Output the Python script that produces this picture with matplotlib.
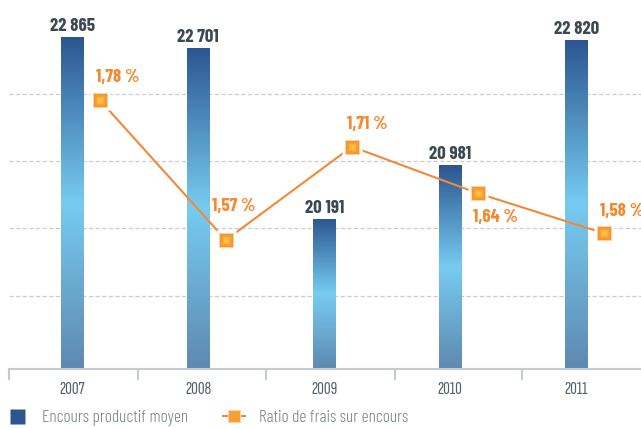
import numpy as np
import matplotlib
matplotlib.use('Agg')
import matplotlib.pyplot as plt
from matplotlib import font_manager
from matplotlib.colors import LinearSegmentedColormap
from matplotlib.lines import Line2D

# ---- data ----
years = ['2007', '2008', '2009', '2010', '2011']
encours = [22865, 22701, 20191, 20981, 22820]
ratio = [1.78, 1.57, 1.71, 1.64, 1.58]
bar_labels = ['22 865', '22 701', '20 191', '20 981', '22 820']
ratio_labels = ['1,78 %', '1,57 %', '1,71 %', '1,64 %', '1,58 %']
legend_labels = ['Encours productif moyen', 'Ratio de frais sur encours']

# ---- fonts ----
names = {f.name for f in font_manager.fontManager.ttflist}
def fam(name):
    return [name, 'DejaVu Sans'] if name in names else ['DejaVu Sans']
F_MAIN = fam('Barlow Condensed')
F_YEAR = fam('Sofia Sans Extra Condensed')
plt.rcParams['font.family'] = F_MAIN

W, H = 641, 428
fig = plt.figure(figsize=(W / 100, H / 100), dpi=100)
AX_BOTTOM = 369
ax = fig.add_axes([0, (H - AX_BOTTOM) / H, 1, AX_BOTTOM / H])
ax2 = ax.twinx()

x = np.arange(len(years))
PX = 126.1
xmin, xmax = -72 / PX, (W - 72) / PX
YBOT, YTOP = 17985, 23406
Y2BOT, Y2TOP = 1.3765, 1.93

# ---- gridlines ----
grid_levels = [19060, 20050, 21040, 22030]
for g in grid_levels:
    ax.axhline(g, xmin=(9 / W), xmax=1, color='#c9ced1', lw=0.9,
               ls=(0, (3.4, 1.9)), zorder=1)

# ---- bars with vertical gradient ----
bar_w = 23 / PX
bars = ax.bar(x, encours, width=bar_w, color='none', edgecolor='none', zorder=2)
cmap = LinearSegmentedColormap.from_list(
    'bar', [(0.0, '#5e89b0'), (0.5, '#77cbf1'), (1.0, '#2b5690')])
grad = np.linspace(0, 1, 256).reshape(-1, 1)
for b in bars:
    x0 = b.get_x()
    im = ax.imshow(grad, extent=[x0, x0 + b.get_width(), YBOT, b.get_height()],
                   origin='lower', aspect='auto', cmap=cmap, zorder=2,
                   interpolation='bilinear')
    im.set_clip_path(b)

for xi, v, lbl in zip(x, encours, bar_labels):
    ax.annotate(lbl, (xi, v), xytext=(0, 6), textcoords='offset pixels',
                ha='center', va='baseline', fontsize=13.5, fontweight='bold',
                color='#3b4950')

ax.set_xlim(xmin, xmax)
ax.set_ylim(YBOT, YTOP)

# ---- ratio line ----
mx = x + 0.22
ax2.plot(mx, ratio, color='#f4883a', lw=1.5, zorder=3)
ax2.plot(mx, ratio, ls='none', marker='s', ms=14.5, mfc='white', mec='none', zorder=4)
ax2.plot(mx, ratio, ls='none', marker='s', ms=10, mfc='#f5892c', mec='#fcd3a4',
         mew=0.8, zorder=5)
for s, c in [(8, '#f79a32'), (6, '#f9aa37'), (4, '#fbba3d'), (2, '#fdc943')]:
    ax2.plot(mx, ratio, ls='none', marker='s', ms=s, mfc=c, mec='none', zorder=6)

offsets = [(-4, 18.5), (-14, 28.5), (-5, 18), (-5, -28.5), (-4, 17.5)]
for xi, r, lbl, off in zip(mx, ratio, ratio_labels, offsets):
    ax2.annotate(lbl, (xi, r), xytext=off, textcoords='offset pixels',
                 ha='left', va='baseline', fontsize=13.5, fontweight='bold',
                 color='#f4892f', annotation_clip=False)
ax2.set_ylim(Y2BOT, Y2TOP)
ax2.set_xlim(xmin, xmax)

# ---- axes styling ----
for a in (ax, ax2):
    for s in a.spines.values():
        s.set_visible(False)
    a.set_yticks([])
ax.spines['bottom'].set_visible(True)
ax.spines['bottom'].set_color('#c5cbce')
ax.spines['bottom'].set_linewidth(1.5)
ax.spines['bottom'].set_bounds(-0.5, xmax)
ax.spines['bottom'].set_zorder(7)

ax.set_xticks(x, years)
for t in ax.get_xticklabels():
    t.set_fontfamily(F_YEAR)
ax.set_xticks([-0.5, 0.52, 1.54, 2.56, 3.57], minor=True)
ax.tick_params(axis='x', which='major', length=0, pad=8.5, labelsize=13.5,
               labelcolor='#566067')
ax.tick_params(axis='x', which='minor', length=8, width=1.5, color='#c5cbce',
               direction='out')
ax2.tick_params(axis='x', which='both', length=0, labelbottom=False)

# ---- legend ----
h1 = Line2D([], [], ls='none', marker='s', ms=10.8, mfc='#2b5690', mec='none')
h2 = Line2D([], [], color='#f4883a', lw=1.5, marker='s', ms=8.5, mfc='#f99f33',
            mec='#fcd3a4', mew=0.8)
fig.legend([h1, h2], legend_labels, loc='center left',
           bbox_to_anchor=(5.5 / W, (H - 417.5) / H), ncol=2, frameon=False,
           prop={'family': F_MAIN, 'size': 12.5, 'weight': 300},
           handlelength=1.27, handletextpad=0.83,
           columnspacing=2.0, borderpad=0, borderaxespad=0,
           labelcolor='#7b8287')

fig.savefig('out.png', dpi=100)
